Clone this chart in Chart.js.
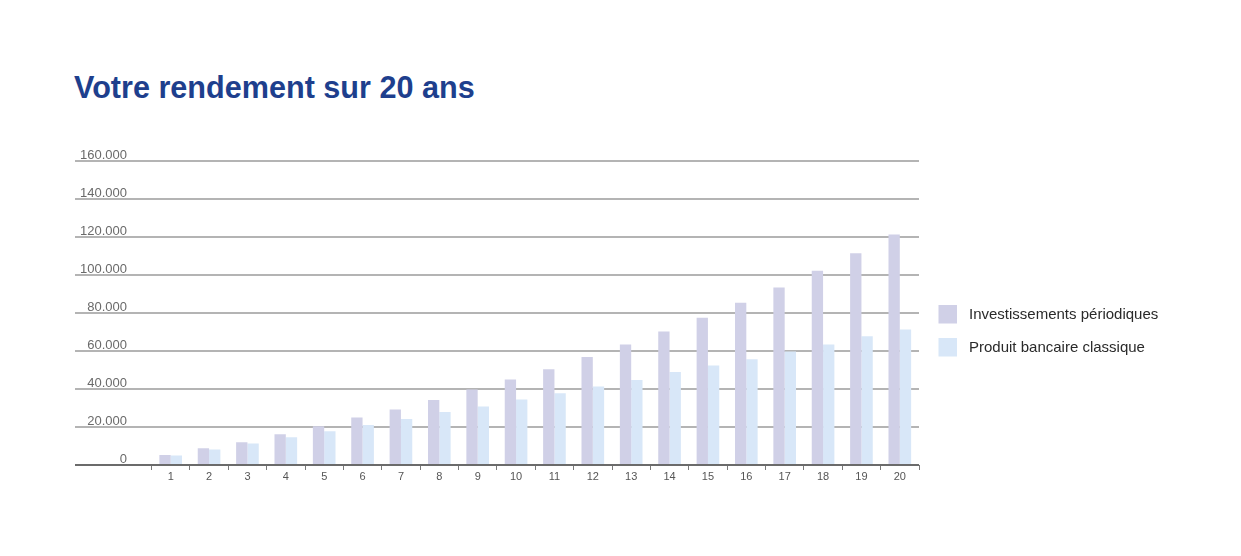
<!DOCTYPE html>
<html lang="fr">
<head>
<meta charset="utf-8">
<title>Votre rendement sur 20 ans</title>
<script src="https://cdn.jsdelivr.net/npm/chart.js@4/dist/chart.umd.min.js"></script>
<style>
  html, body { margin: 0; padding: 0; background: #ffffff; }
  body { width: 1241px; height: 556px; position: relative; overflow: hidden; }
  h1 {
    position: absolute; left: 74px; top: 72px; margin: 0;
    font: bold 30.6px/30px "Liberation Sans", Arial, sans-serif;
    color: #1e3f8d; letter-spacing: 0;
  }
  #wrap { position: absolute; left: 0; top: 0; width: 1241px; height: 556px; }
</style>
</head>
<body>
<h1>Votre rendement sur 20 ans</h1>
<div id="wrap"><canvas id="chart" width="1241" height="556"></canvas></div>
<script>
// Years 1 to 20
const years = ['1','2','3','4','5','6','7','8','9','10','11','12','13','14','15','16','17','18','19','20'];

// Accumulated capital per year
const investissements = [5300, 8800, 12000, 16200, 20400, 25000, 29200, 34200, 39700, 45000,
                         50400, 56900, 63400, 70300, 77500, 85400, 93400, 102200, 111500, 121300];
const produitBancaire = [5000, 8200, 11300, 14600, 17800, 21000, 24200, 27900, 30800, 34500,
                         37800, 41300, 44800, 49000, 52400, 55700, 59800, 63400, 67800, 71300];

// Value axis ticks
const yTickValues = [0, 20000, 40000, 60000, 80000, 100000, 120000, 140000, 160000];
const yTickLabels = ['0', '20.000', '40.000', '60.000', '80.000', '100.000', '120.000', '140.000', '160.000'];

const seriesNames = ['Investissements périodiques', 'Produit bancaire classique'];
const seriesColors = ['#d0d0e7', '#d8e7f8'];

const FONT = '"Liberation Sans", Arial, sans-serif';

// Value labels sit right-aligned just above each horizontal rule
const yLabelsPlugin = {
  id: 'yLabels',
  afterDraw(chart) {
    const y = chart.scales.y;
    const ctx = chart.ctx;
    ctx.save();
    ctx.font = '13px ' + FONT;
    ctx.fillStyle = '#6a6a6a';
    ctx.textAlign = 'right';
    ctx.textBaseline = 'alphabetic';
    yTickValues.forEach((v, i) => {
      ctx.fillText(yTickLabels[i], 127, y.getPixelForValue(v) - 2.5);
    });
    ctx.restore();
  }
};

// Legend on the right of the plot
const sideLegendPlugin = {
  id: 'sideLegend',
  afterDraw(chart) {
    const ctx = chart.ctx;
    ctx.save();
    ctx.font = '15px ' + FONT;
    ctx.textAlign = 'left';
    ctx.textBaseline = 'middle';
    chart.data.datasets.forEach((ds, i) => {
      const top = 305 + i * 33;
      ctx.fillStyle = ds.backgroundColor;
      ctx.fillRect(938.5, top, 18.5, 18.5);
      ctx.fillStyle = '#2a2a2a';
      ctx.fillText(ds.label, 969, top + 9.5);
    });
    ctx.restore();
  }
};

new Chart(document.getElementById('chart'), {
  type: 'bar',
  data: {
    labels: years,
    datasets: [
      { label: seriesNames[0], data: investissements, backgroundColor: seriesColors[0] },
      { label: seriesNames[1], data: produitBancaire, backgroundColor: seriesColors[1] }
    ]
  },
  options: {
    responsive: false,
    animation: false,
    events: [],
    categoryPercentage: 0.59,
    barPercentage: 1.0,
    layout: { padding: { left: 76.5, right: 322, top: 161, bottom: 0 } },
    plugins: {
      legend: { display: false },
      title: { display: false },
      tooltip: { enabled: false }
    },
    scales: {
      x: {
        offset: true,
        border: { display: false },
        grid: {
          offset: true,
          drawOnChartArea: false,
          tickLength: 5,
          color: '#7a7a7a',
          lineWidth: 1
        },
        ticks: {
          font: { family: FONT, size: 11 },
          color: '#555555',
          padding: 0,
          maxRotation: 0,
          autoSkip: false
        },
        afterFit(scale) { scale.height = 91; }
      },
      y: {
        min: 0,
        max: 160000,
        border: { display: false },
        afterBuildTicks(scale) {
          scale.ticks = yTickValues.map(v => ({ value: v }));
        },
        grid: {
          tickLength: 76.5,
          lineWidth: 2,
          color: (c) => (c.tick && c.tick.value === 0 ? '#6b6b6b' : '#b4b4b4')
        },
        ticks: { display: false },
        afterFit(scale) { scale.width = 75; }
      }
    }
  },
  plugins: [yLabelsPlugin, sideLegendPlugin]
});
</script>
</body>
</html>
